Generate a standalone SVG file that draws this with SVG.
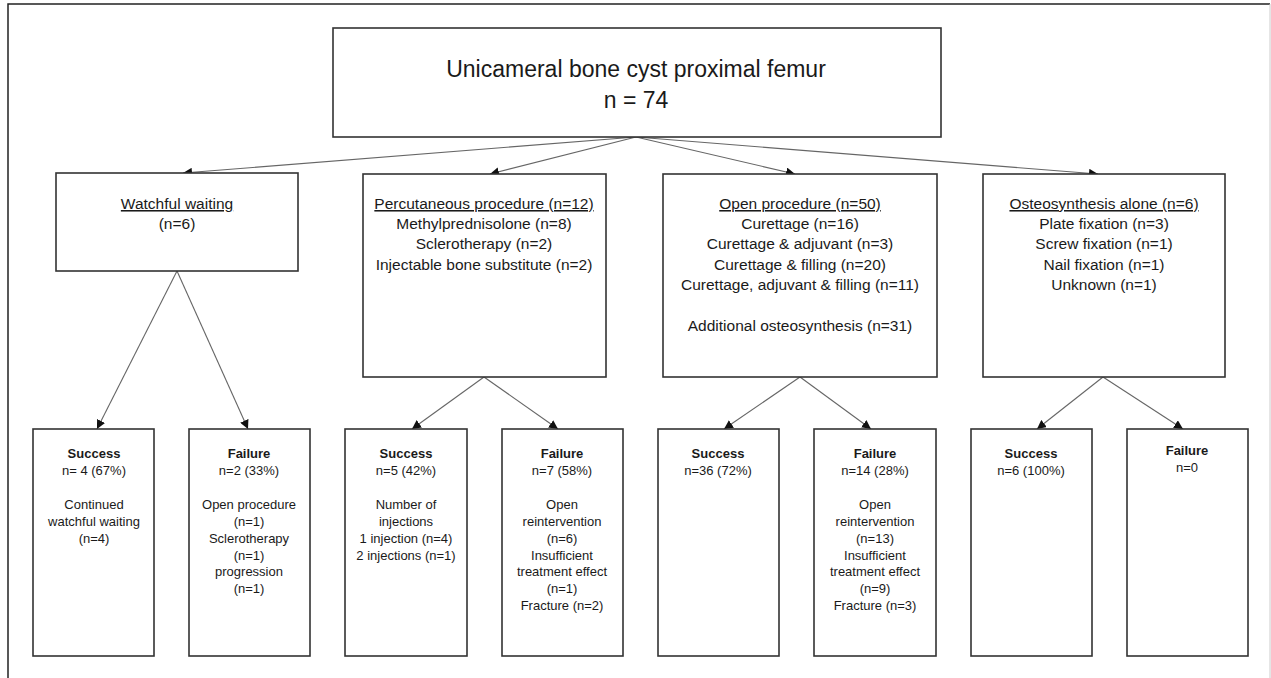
<svg xmlns="http://www.w3.org/2000/svg" width="1271" height="678" viewBox="0 0 1271 678">
<defs>
<style>
.box{fill:#fff;stroke:#333;stroke-width:1.6}
.con{fill:none;stroke:#666;stroke-width:1.1;marker-end:url(#ah)}
text{font-family:"Liberation Sans",Arial,sans-serif;fill:#1a1a1a;text-anchor:middle}
.t{font-size:23px}
.m{font-size:15.5px}
.s{font-size:13px}
.b{font-weight:bold}
.u{text-decoration:underline}
</style>
<marker id="ah" viewBox="0 0 10 10" refX="10" refY="5" markerWidth="9" markerHeight="9" markerUnits="userSpaceOnUse" orient="auto">
<path d="M0,0 L10,5 L0,10 z" fill="#111"/>
</marker>
</defs>
<rect width="1271" height="678" fill="#fff"/>
<path d="M8,690 L8,4 L1270,4" fill="none" stroke="#222" stroke-width="1.5"/>
<path d="M1270,4 L1270,678" fill="none" stroke="#ccc" stroke-width="1"/>

<g id="connectors">
<path class="con" d="M636,137 L183,173"/>
<path class="con" d="M636,137 L490,174"/>
<path class="con" d="M636,137 L795,174"/>
<path class="con" d="M636,137 L1098,174"/>
<path class="con" d="M177,271 L97,429"/>
<path class="con" d="M177,271 L248,429"/>
<path class="con" d="M484,377 L412,429"/>
<path class="con" d="M484,377 L558,429"/>
<path class="con" d="M800,377 L724,429"/>
<path class="con" d="M800,377 L871,429"/>
<path class="con" d="M1103,377 L1037,429"/>
<path class="con" d="M1103,377 L1183,429"/>
</g>

<g id="root">
<rect class="box" x="333" y="28" width="608" height="109"/>
<text class="t" x="636" y="77">Unicameral bone cyst proximal femur</text>
<text class="t" x="636" y="108">n = 74</text>
</g>

<g id="watchful">
<rect class="box" x="56" y="173" width="242" height="98"/>
<text class="m u" x="177" y="209">Watchful waiting</text>
<text class="m" x="177" y="229">(n=6)</text>
</g>

<g id="percutaneous">
<rect class="box" x="363" y="174" width="243" height="203"/>
<text class="m u" x="484" y="209">Percutaneous procedure (n=12)</text>
<text class="m" x="484" y="229">Methylprednisolone (n=8)</text>
<text class="m" x="484" y="249">Sclerotherapy (n=2)</text>
<text class="m" x="484" y="270">Injectable bone substitute (n=2)</text>
</g>

<g id="open">
<rect class="box" x="663" y="174" width="274" height="203"/>
<text class="m u" x="800" y="209">Open procedure (n=50)</text>
<text class="m" x="800" y="229">Curettage (n=16)</text>
<text class="m" x="800" y="249">Curettage &amp; adjuvant (n=3)</text>
<text class="m" x="800" y="270">Curettage &amp; filling (n=20)</text>
<text class="m" x="800" y="290">Curettage, adjuvant &amp; filling (n=11)</text>
<text class="m" x="800" y="331">Additional osteosynthesis (n=31)</text>
</g>

<g id="osteosynthesis">
<rect class="box" x="983" y="174" width="242" height="203"/>
<text class="m u" x="1104" y="209">Osteosynthesis alone (n=6)</text>
<text class="m" x="1104" y="229">Plate fixation (n=3)</text>
<text class="m" x="1104" y="249">Screw fixation (n=1)</text>
<text class="m" x="1104" y="270">Nail fixation (n=1)</text>
<text class="m" x="1104" y="290">Unknown (n=1)</text>
</g>

<g id="ww-success">
<rect class="box" x="33" y="429" width="121" height="227"/>
<text class="s b" x="94" y="458">Success</text>
<text class="s" x="94" y="475">n= 4 (67%)</text>
<text class="s" x="94" y="509">Continued</text>
<text class="s" x="94" y="526">watchful waiting</text>
<text class="s" x="94" y="543">(n=4)</text>
</g>

<g id="ww-failure">
<rect class="box" x="189" y="429" width="121" height="227"/>
<text class="s b" x="249" y="458">Failure</text>
<text class="s" x="249" y="475">n=2 (33%)</text>
<text class="s" x="249" y="509">Open procedure</text>
<text class="s" x="249" y="526">(n=1)</text>
<text class="s" x="249" y="543">Sclerotherapy</text>
<text class="s" x="249" y="560">(n=1)</text>
<text class="s" x="249" y="576">progression</text>
<text class="s" x="249" y="593">(n=1)</text>
</g>

<g id="pc-success">
<rect class="box" x="345" y="429" width="122" height="227"/>
<text class="s b" x="406" y="458">Success</text>
<text class="s" x="406" y="475">n=5 (42%)</text>
<text class="s" x="406" y="509">Number of</text>
<text class="s" x="406" y="526">injections</text>
<text class="s" x="406" y="543">1 injection (n=4)</text>
<text class="s" x="406" y="560">2 injections (n=1)</text>
</g>

<g id="pc-failure">
<rect class="box" x="502" y="429" width="121" height="227"/>
<text class="s b" x="562" y="458">Failure</text>
<text class="s" x="562" y="475">n=7 (58%)</text>
<text class="s" x="562" y="509">Open</text>
<text class="s" x="562" y="526">reintervention</text>
<text class="s" x="562" y="543">(n=6)</text>
<text class="s" x="562" y="560">Insufficient</text>
<text class="s" x="562" y="576">treatment effect</text>
<text class="s" x="562" y="593">(n=1)</text>
<text class="s" x="562" y="610">Fracture (n=2)</text>
</g>

<g id="op-success">
<rect class="box" x="658" y="429" width="121" height="227"/>
<text class="s b" x="718" y="458">Success</text>
<text class="s" x="718" y="475">n=36 (72%)</text>
</g>

<g id="op-failure">
<rect class="box" x="814" y="429" width="122" height="227"/>
<text class="s b" x="875" y="458">Failure</text>
<text class="s" x="875" y="475">n=14 (28%)</text>
<text class="s" x="875" y="509">Open</text>
<text class="s" x="875" y="526">reintervention</text>
<text class="s" x="875" y="543">(n=13)</text>
<text class="s" x="875" y="560">Insufficient</text>
<text class="s" x="875" y="576">treatment effect</text>
<text class="s" x="875" y="593">(n=9)</text>
<text class="s" x="875" y="610">Fracture (n=3)</text>
</g>

<g id="os-success">
<rect class="box" x="971" y="429" width="121" height="227"/>
<text class="s b" x="1031" y="458">Success</text>
<text class="s" x="1031" y="475">n=6 (100%)</text>
</g>

<g id="os-failure">
<rect class="box" x="1127" y="429" width="121" height="227"/>
<text class="s b" x="1187" y="455">Failure</text>
<text class="s" x="1187" y="472">n=0</text>
</g>
</svg>
